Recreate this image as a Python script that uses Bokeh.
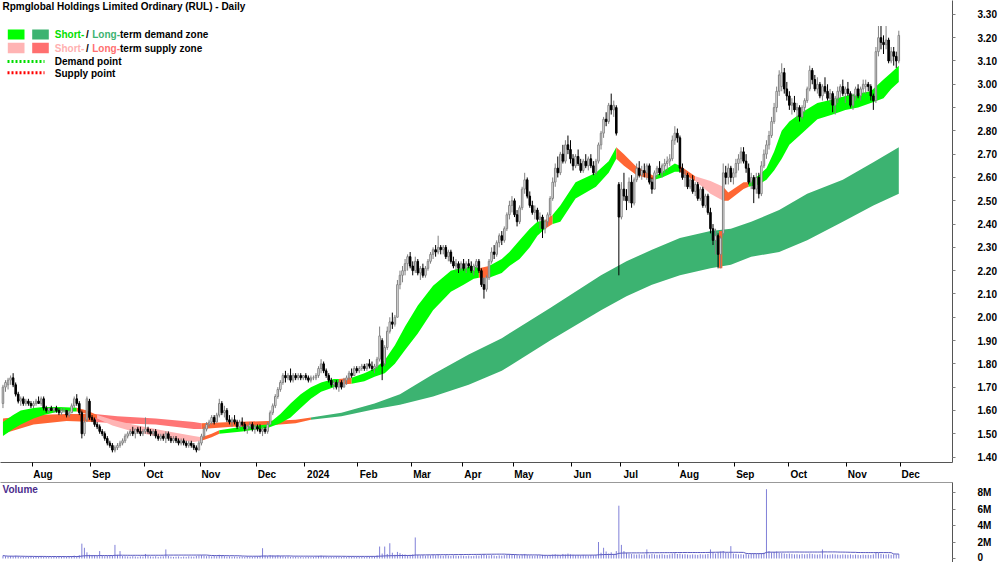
import numpy as np
import pandas as pd
from bokeh.plotting import figure
from bokeh.layouts import column
from bokeh.models import (Range1d, FixedTicker, PrintfTickFormatter, CustomJSTickFormatter,
                          Label, LinearAxis, ColumnDataSource)
from bokeh.embed import file_html
from bokeh.resources import INLINE

# ---------------------------------------------------------------- data
first_day = "2023-07-14"
last_day = "2024-11-29"
asx_holidays = ["2023-12-25", "2023-12-26", "2024-01-01", "2024-01-26",
                "2024-03-29", "2024-04-01", "2024-04-25", "2024-06-10"]

open_ = [
    1.63, 1.70, 1.71, 1.73, 1.74, 1.71, 1.67, 1.64, 1.65, 1.63, 1.64, 1.63,
    1.62, 1.63, 1.64, 1.63, 1.65, 1.61, 1.60, 1.61, 1.60, 1.61, 1.60, 1.59, 1.60, 1.60, 1.58, 1.59, 1.62, 1.65, 1.63, 1.59, 1.50, 1.56, 1.64,
    1.57, 1.56, 1.54, 1.53, 1.51, 1.50, 1.48, 1.46, 1.45, 1.43, 1.44, 1.45, 1.46, 1.47, 1.49, 1.50, 1.51, 1.50, 1.52, 1.51, 1.50,
    1.51, 1.52, 1.51, 1.50, 1.51, 1.49, 1.48, 1.49, 1.48, 1.50, 1.48, 1.47, 1.48, 1.47, 1.46, 1.47, 1.46, 1.45, 1.46, 1.45, 1.44, 1.43,
    1.46, 1.49, 1.52, 1.54, 1.55, 1.57, 1.55, 1.58, 1.63, 1.59, 1.60, 1.56, 1.55, 1.56, 1.55, 1.53, 1.55, 1.54, 1.52, 1.53, 1.54, 1.52,
    1.53, 1.52, 1.51, 1.52, 1.51, 1.54, 1.59, 1.62, 1.66, 1.69, 1.72, 1.75, 1.74, 1.75, 1.73, 1.75, 1.74, 1.75, 1.74,
    1.75, 1.74, 1.73, 1.74, 1.74, 1.75, 1.78, 1.80, 1.77, 1.75, 1.73, 1.71, 1.72, 1.70, 1.72, 1.70, 1.73, 1.74, 1.76, 1.75, 1.78,
    1.77, 1.78, 1.79, 1.78, 1.80, 1.79, 1.78, 1.79, 1.82, 1.90, 1.80, 1.87, 1.94, 1.98, 1.97, 2.00, 2.14, 2.18, 2.20, 2.23, 2.26,
    2.22, 2.20, 2.24, 2.19, 2.21, 2.18, 2.21, 2.24, 2.27, 2.29, 2.28, 2.30, 2.29, 2.30, 2.26, 2.28, 2.24, 2.22, 2.23, 2.21,
    2.23, 2.21, 2.23, 2.22, 2.20, 2.22, 2.24, 2.20, 2.14, 2.12, 2.17, 2.24, 2.28, 2.27, 2.32, 2.35, 2.33, 2.38, 2.44, 2.48,
    2.50, 2.44, 2.41, 2.47, 2.55, 2.59, 2.52, 2.48, 2.45, 2.46, 2.42, 2.43, 2.38, 2.41, 2.44, 2.51, 2.58, 2.64, 2.62, 2.70, 2.67, 2.74, 2.72,
    2.68, 2.65, 2.69, 2.66, 2.63, 2.67, 2.65, 2.68, 2.65, 2.62, 2.67, 2.74, 2.79, 2.85, 2.84, 2.91, 2.89, 2.90, 2.57,
    2.43, 2.55, 2.52, 2.50, 2.58, 2.49, 2.59, 2.64, 2.61, 2.63, 2.62, 2.65, 2.58, 2.55, 2.62, 2.64, 2.62, 2.65, 2.66, 2.67, 2.68, 2.76, 2.79,
    2.77, 2.64, 2.60, 2.61, 2.56, 2.59, 2.54, 2.57, 2.51, 2.55, 2.48, 2.52, 2.45, 2.38, 2.33, 2.35, 2.27, 2.36, 2.62, 2.60, 2.64, 2.60,
    2.62, 2.66, 2.68, 2.71, 2.67, 2.64, 2.58, 2.60, 2.55, 2.60, 2.53, 2.65, 2.70, 2.74, 2.78, 2.84, 2.90, 2.97, 2.99, 3.05, 2.98,
    2.95, 2.91, 2.92, 2.89, 2.90, 2.86, 2.90, 2.93, 2.98, 3.06, 3.02, 2.98, 3.00, 2.95, 2.99, 2.97, 2.94, 2.96, 2.91, 2.94, 2.97, 2.99, 2.96,
    2.98, 2.96, 2.91, 2.95, 2.98, 2.95, 2.98, 2.99, 3.00, 2.99, 2.95, 2.93, 3.14, 3.20, 3.18, 3.17, 3.19, 3.10, 3.14, 3.12, 3.10,
]
high = [
    1.71, 1.73, 1.74, 1.75, 1.76, 1.72, 1.68, 1.66, 1.66, 1.65, 1.65, 1.64,
    1.64, 1.65, 1.66, 1.66, 1.66, 1.62, 1.61, 1.62, 1.61, 1.62, 1.61, 1.61, 1.61, 1.60, 1.60, 1.63, 1.66, 1.67, 1.64, 1.60, 1.57, 1.66, 1.65,
    1.58, 1.57, 1.55, 1.54, 1.52, 1.51, 1.49, 1.47, 1.46, 1.45, 1.46, 1.47, 1.48, 1.50, 1.51, 1.52, 1.53, 1.52, 1.53, 1.53, 1.52,
    1.57, 1.53, 1.52, 1.52, 1.52, 1.50, 1.50, 1.50, 1.51, 1.51, 1.49, 1.49, 1.49, 1.48, 1.48, 1.48, 1.47, 1.47, 1.47, 1.46, 1.45, 1.47,
    1.50, 1.53, 1.55, 1.56, 1.58, 1.58, 1.59, 1.65, 1.64, 1.62, 1.61, 1.58, 1.57, 1.58, 1.56, 1.56, 1.57, 1.55, 1.54, 1.55, 1.55, 1.54,
    1.54, 1.54, 1.53, 1.53, 1.55, 1.60, 1.63, 1.67, 1.70, 1.73, 1.76, 1.77, 1.76, 1.78, 1.76, 1.76, 1.76, 1.76, 1.75,
    1.76, 1.75, 1.75, 1.75, 1.76, 1.79, 1.82, 1.81, 1.78, 1.76, 1.74, 1.73, 1.73, 1.73, 1.73, 1.74, 1.75, 1.77, 1.78, 1.79, 1.79,
    1.79, 1.80, 1.80, 1.80, 1.82, 1.81, 1.80, 1.83, 1.96, 1.91, 1.88, 1.96, 2.00, 2.02, 2.01, 2.16, 2.20, 2.22, 2.25, 2.27, 2.28,
    2.24, 2.26, 2.25, 2.22, 2.23, 2.22, 2.25, 2.28, 2.30, 2.31, 2.35, 2.31, 2.31, 2.31, 2.29, 2.29, 2.26, 2.25, 2.24, 2.24,
    2.25, 2.24, 2.25, 2.24, 2.23, 2.25, 2.25, 2.21, 2.17, 2.18, 2.25, 2.30, 2.31, 2.33, 2.36, 2.37, 2.39, 2.45, 2.50, 2.52,
    2.51, 2.46, 2.48, 2.56, 2.62, 2.60, 2.54, 2.50, 2.48, 2.47, 2.45, 2.44, 2.42, 2.45, 2.52, 2.60, 2.66, 2.69, 2.71, 2.74, 2.76, 2.78, 2.76,
    2.70, 2.70, 2.72, 2.68, 2.68, 2.70, 2.69, 2.70, 2.67, 2.68, 2.75, 2.80, 2.86, 2.88, 2.92, 2.96, 2.93, 2.91, 2.58,
    2.58, 2.62, 2.55, 2.60, 2.61, 2.60, 2.66, 2.67, 2.65, 2.66, 2.66, 2.66, 2.60, 2.63, 2.65, 2.67, 2.66, 2.68, 2.69, 2.70, 2.78, 2.82, 2.81,
    2.78, 2.66, 2.63, 2.62, 2.60, 2.61, 2.58, 2.58, 2.56, 2.56, 2.53, 2.53, 2.47, 2.40, 2.38, 2.36, 2.35, 2.66, 2.65, 2.66, 2.65, 2.64,
    2.68, 2.70, 2.73, 2.73, 2.70, 2.66, 2.62, 2.61, 2.62, 2.62, 2.67, 2.72, 2.76, 2.80, 2.86, 2.92, 2.99, 3.06, 3.09, 3.07, 3.01,
    2.97, 2.94, 2.95, 2.92, 2.91, 2.91, 2.94, 2.99, 3.08, 3.07, 3.04, 3.03, 3.01, 3.00, 3.03, 3.00, 2.98, 2.97, 2.95, 2.99, 3.00, 3.02, 2.99,
    3.01, 2.97, 2.96, 2.99, 3.00, 2.99, 3.02, 3.02, 3.01, 3.00, 2.96, 3.16, 3.25, 3.25, 3.21, 3.25, 3.20, 3.16, 3.16, 3.14, 3.23,
]
low = [
    1.61, 1.68, 1.69, 1.71, 1.70, 1.66, 1.63, 1.62, 1.62, 1.62, 1.62, 1.61,
    1.61, 1.62, 1.63, 1.62, 1.60, 1.59, 1.59, 1.60, 1.59, 1.59, 1.58, 1.58, 1.59, 1.57, 1.57, 1.59, 1.61, 1.62, 1.58, 1.48, 1.49, 1.55, 1.56,
    1.55, 1.53, 1.52, 1.50, 1.49, 1.47, 1.45, 1.44, 1.42, 1.42, 1.43, 1.44, 1.45, 1.46, 1.48, 1.49, 1.49, 1.48, 1.50, 1.49, 1.49,
    1.50, 1.50, 1.49, 1.49, 1.48, 1.47, 1.47, 1.47, 1.46, 1.47, 1.46, 1.46, 1.46, 1.45, 1.45, 1.45, 1.44, 1.44, 1.44, 1.43, 1.42, 1.43,
    1.45, 1.48, 1.51, 1.53, 1.54, 1.54, 1.55, 1.57, 1.58, 1.57, 1.55, 1.54, 1.53, 1.54, 1.52, 1.52, 1.53, 1.51, 1.50, 1.52, 1.51, 1.50,
    1.51, 1.50, 1.49, 1.50, 1.50, 1.54, 1.58, 1.61, 1.65, 1.68, 1.71, 1.72, 1.73, 1.72, 1.72, 1.73, 1.73, 1.73, 1.73,
    1.73, 1.72, 1.72, 1.73, 1.73, 1.74, 1.76, 1.76, 1.74, 1.72, 1.70, 1.69, 1.69, 1.68, 1.69, 1.70, 1.71, 1.73, 1.74, 1.75, 1.76,
    1.76, 1.77, 1.77, 1.77, 1.78, 1.77, 1.76, 1.78, 1.81, 1.73, 1.79, 1.86, 1.93, 1.95, 1.96, 2.00, 2.12, 2.15, 2.18, 2.20, 2.21,
    2.18, 2.19, 2.18, 2.16, 2.17, 2.17, 2.20, 2.23, 2.25, 2.26, 2.27, 2.27, 2.27, 2.25, 2.24, 2.23, 2.21, 2.20, 2.19, 2.20,
    2.20, 2.19, 2.21, 2.19, 2.18, 2.21, 2.19, 2.13, 2.08, 2.11, 2.16, 2.23, 2.25, 2.26, 2.30, 2.31, 2.32, 2.37, 2.42, 2.45,
    2.43, 2.39, 2.40, 2.46, 2.53, 2.51, 2.47, 2.44, 2.42, 2.41, 2.38, 2.34, 2.36, 2.39, 2.43, 2.50, 2.56, 2.60, 2.61, 2.66, 2.66, 2.70, 2.66,
    2.63, 2.64, 2.65, 2.62, 2.62, 2.64, 2.63, 2.64, 2.61, 2.61, 2.66, 2.72, 2.77, 2.82, 2.83, 2.87, 2.86, 2.78, 2.18,
    2.42, 2.50, 2.46, 2.49, 2.47, 2.48, 2.58, 2.60, 2.59, 2.60, 2.59, 2.57, 2.53, 2.55, 2.60, 2.61, 2.60, 2.62, 2.63, 2.65, 2.67, 2.74, 2.75,
    2.62, 2.59, 2.56, 2.55, 2.55, 2.53, 2.52, 2.50, 2.50, 2.47, 2.47, 2.44, 2.36, 2.31, 2.27, 2.21, 2.21, 2.35, 2.57, 2.57, 2.58, 2.57,
    2.60, 2.63, 2.66, 2.66, 2.62, 2.57, 2.55, 2.49, 2.53, 2.51, 2.52, 2.64, 2.68, 2.72, 2.77, 2.83, 2.88, 2.95, 2.97, 2.96, 2.93,
    2.89, 2.87, 2.88, 2.85, 2.84, 2.85, 2.88, 2.92, 2.97, 3.00, 2.97, 2.96, 2.94, 2.93, 2.96, 2.93, 2.92, 2.88, 2.87, 2.92, 2.94, 2.95, 2.92,
    2.95, 2.90, 2.89, 2.93, 2.94, 2.93, 2.96, 2.96, 2.97, 2.93, 2.89, 2.92, 3.12, 3.15, 3.13, 3.15, 3.09, 3.09, 3.08, 3.07, 3.09,
]
close = [
    1.70, 1.72, 1.73, 1.74, 1.71, 1.67, 1.64, 1.65, 1.63, 1.64, 1.63, 1.62,
    1.63, 1.64, 1.63, 1.65, 1.61, 1.60, 1.61, 1.60, 1.61, 1.60, 1.59, 1.60, 1.60, 1.58, 1.59, 1.62, 1.65, 1.63, 1.59, 1.50, 1.55, 1.65, 1.57,
    1.56, 1.54, 1.53, 1.51, 1.50, 1.48, 1.46, 1.45, 1.43, 1.44, 1.45, 1.46, 1.47, 1.49, 1.50, 1.51, 1.50, 1.52, 1.51, 1.50, 1.51,
    1.52, 1.51, 1.50, 1.51, 1.49, 1.48, 1.49, 1.48, 1.50, 1.48, 1.47, 1.48, 1.47, 1.46, 1.47, 1.46, 1.45, 1.46, 1.45, 1.44, 1.43, 1.46,
    1.49, 1.52, 1.54, 1.55, 1.57, 1.55, 1.58, 1.63, 1.59, 1.60, 1.56, 1.55, 1.56, 1.55, 1.53, 1.55, 1.54, 1.52, 1.53, 1.54, 1.52, 1.53,
    1.52, 1.51, 1.52, 1.51, 1.54, 1.59, 1.62, 1.66, 1.69, 1.72, 1.75, 1.74, 1.75, 1.73, 1.75, 1.74, 1.75, 1.74, 1.75,
    1.74, 1.73, 1.74, 1.74, 1.75, 1.78, 1.80, 1.77, 1.75, 1.73, 1.71, 1.72, 1.70, 1.72, 1.70, 1.73, 1.74, 1.76, 1.75, 1.78, 1.77,
    1.78, 1.79, 1.78, 1.80, 1.79, 1.78, 1.79, 1.82, 1.92, 1.79, 1.87, 1.94, 1.98, 1.97, 2.00, 2.14, 2.18, 2.20, 2.23, 2.26, 2.22,
    2.20, 2.24, 2.19, 2.21, 2.18, 2.21, 2.24, 2.27, 2.29, 2.28, 2.30, 2.29, 2.30, 2.26, 2.28, 2.24, 2.22, 2.23, 2.21, 2.23,
    2.21, 2.23, 2.22, 2.20, 2.22, 2.24, 2.20, 2.14, 2.12, 2.17, 2.24, 2.28, 2.27, 2.32, 2.35, 2.33, 2.38, 2.44, 2.48, 2.50,
    2.44, 2.41, 2.47, 2.55, 2.59, 2.52, 2.48, 2.45, 2.46, 2.42, 2.43, 2.38, 2.41, 2.44, 2.51, 2.58, 2.64, 2.62, 2.70, 2.67, 2.74, 2.72, 2.68,
    2.65, 2.69, 2.66, 2.63, 2.67, 2.65, 2.68, 2.65, 2.62, 2.67, 2.74, 2.79, 2.85, 2.84, 2.91, 2.89, 2.91, 2.79, 2.43,
    2.55, 2.52, 2.50, 2.58, 2.49, 2.59, 2.64, 2.61, 2.63, 2.62, 2.65, 2.58, 2.55, 2.62, 2.64, 2.62, 2.65, 2.66, 2.67, 2.68, 2.76, 2.79, 2.77,
    2.64, 2.60, 2.61, 2.56, 2.59, 2.54, 2.57, 2.51, 2.55, 2.48, 2.52, 2.45, 2.38, 2.33, 2.35, 2.27, 2.34, 2.62, 2.60, 2.64, 2.60, 2.62,
    2.66, 2.68, 2.71, 2.67, 2.64, 2.58, 2.60, 2.55, 2.60, 2.53, 2.65, 2.70, 2.74, 2.78, 2.84, 2.90, 2.97, 3.04, 3.05, 2.98, 2.95,
    2.91, 2.92, 2.89, 2.90, 2.86, 2.90, 2.93, 2.98, 3.06, 3.02, 2.98, 3.00, 2.95, 2.99, 2.97, 2.94, 2.96, 2.91, 2.94, 2.97, 2.99, 2.96, 2.98,
    2.96, 2.91, 2.95, 2.98, 2.95, 2.98, 3.00, 3.00, 2.99, 2.95, 2.93, 3.14, 3.20, 3.18, 3.17, 3.19, 3.10, 3.14, 3.12, 3.10, 3.21,
]
volume_m = [
    0.35, 0.28, 0.22, 0.30, 0.25, 0.33, 0.27, 0.20, 0.24, 0.18, 0.22, 0.26,
    0.21, 0.19, 0.25, 0.30, 0.22, 0.18, 0.20, 0.17, 0.23, 0.19, 0.21, 0.24, 0.18, 0.22, 0.26, 0.30, 0.35, 0.28, 0.40, 1.80, 1.30, 0.75, 0.45,
    0.38, 0.42, 0.30, 0.90, 0.35, 0.28, 0.33, 0.41, 0.36, 1.65, 0.45, 0.90, 0.30, 0.27, 0.25, 0.22, 0.28, 0.24, 0.20, 0.26, 0.23,
    0.55, 0.30, 0.25, 0.22, 0.28, 0.20, 0.24, 0.26, 1.10, 0.30, 0.22, 0.19, 0.21, 0.25, 0.18, 0.23, 0.20, 0.27, 0.24, 0.22, 0.30, 0.35,
    0.40, 0.33, 0.28, 0.30, 0.25, 0.31, 0.27, 0.45, 0.38, 0.29, 0.22, 0.26, 0.20, 0.24, 0.19, 0.23, 0.21, 0.18, 0.25, 0.22, 0.20, 0.24,
    0.26, 0.30, 1.25, 0.35, 0.28, 0.40, 0.36, 0.32, 0.38, 0.30, 0.27, 0.22, 0.25, 0.20, 0.18, 0.22, 0.16, 0.19, 0.15,
    0.18, 0.21, 0.17, 0.20, 0.23, 0.30, 0.35, 0.28, 0.24, 0.20, 0.22, 0.19, 0.25, 0.21, 0.18, 0.20, 0.17, 0.22, 0.24, 0.19, 0.21,
    0.20, 0.23, 0.18, 0.22, 0.25, 0.21, 0.27, 0.38, 1.45, 0.60, 1.45, 0.55, 1.85, 0.70, 0.45, 0.80, 0.65, 0.50, 0.48, 0.40, 0.44,
    0.50, 2.55, 0.45, 0.38, 0.42, 0.35, 0.40, 0.37, 0.45, 0.39, 0.48, 0.36, 0.33, 0.41, 0.35, 0.30, 0.38, 0.34, 0.31, 0.36,
    0.33, 0.30, 0.35, 0.29, 0.32, 0.38, 0.34, 0.45, 0.52, 0.40, 0.36, 0.42, 0.35, 0.31, 0.38, 0.34, 0.40, 0.45, 0.50, 0.42,
    0.48, 0.40, 0.36, 0.45, 0.55, 0.42, 0.38, 0.35, 0.33, 0.40, 0.37, 0.45, 0.39, 0.35, 0.42, 0.48, 0.52, 0.45, 0.40, 0.55, 0.48, 0.60, 0.50,
    0.45, 0.40, 0.42, 0.38, 0.44, 0.40, 0.36, 0.41, 0.39, 0.43, 2.00, 0.70, 1.30, 0.85, 0.60, 0.75, 0.55, 0.90, 6.40,
    1.65, 0.90, 0.70, 0.60, 0.55, 0.50, 0.48, 0.52, 0.45, 0.50, 1.10, 0.47, 0.55, 0.50, 0.45, 0.48, 0.52, 0.46, 0.44, 0.50, 0.60, 0.65, 0.55,
    0.58, 0.50, 0.52, 0.48, 0.45, 0.50, 0.47, 0.44, 0.52, 0.48, 0.50, 0.55, 1.10, 0.70, 0.60, 0.75, 0.85, 0.90, 0.70, 0.65, 1.50, 0.60,
    0.55, 0.50, 0.52, 0.48, 0.55, 0.50, 0.58, 0.62, 0.55, 0.60, 0.65, 0.70, 8.40, 0.90, 0.75, 0.80, 0.85, 0.70, 0.65, 0.60, 0.55,
    0.60, 0.55, 0.50, 0.52, 0.48, 0.55, 0.50, 0.53, 0.60, 0.55, 0.50, 0.48, 0.52, 1.10, 0.50, 0.45, 0.48, 0.52, 0.50, 0.47, 0.45, 0.50, 0.48,
    0.46, 0.50, 0.44, 0.48, 0.45, 0.42, 0.47, 0.44, 0.46, 0.43, 0.50, 0.70, 0.65, 0.55, 0.50, 0.48, 0.52, 0.45, 0.50, 0.47, 0.55,
]

# short-term zone (fast group) edges at sampled trading days; state G=demand, P=supply, O=transition
st_day = [0, 4, 7, 12, 16, 22, 29, 33, 37, 43, 51, 65, 75, 78, 82, 85, 94, 104, 109, 113,
          117, 121, 125, 130, 132, 137, 142, 146, 150, 154, 158, 163, 169, 176, 181, 185, 187, 191, 196, 199,
          203, 207, 210, 213, 216, 219, 225, 233, 238, 241, 244, 249, 256, 259, 264, 266, 272, 278, 283, 285,
          291, 293, 297, 300, 303, 306, 309, 314, 320, 326, 331, 336, 341, 346, 349, 352]
st_top = [1.55, 1.58, 1.60, 1.61, 1.615, 1.615, 1.612, 1.60, 1.58, 1.56, 1.54, 1.51, 1.49, 1.485, 1.50, 1.515, 1.53, 1.54, 1.585, 1.63,
          1.67, 1.70, 1.72, 1.735, 1.735, 1.74, 1.76, 1.78, 1.815, 1.88, 1.96, 2.05, 2.135, 2.20, 2.215, 2.22, 2.21, 2.22, 2.25, 2.28,
          2.33, 2.38, 2.41, 2.415, 2.44, 2.48, 2.58, 2.62, 2.67, 2.73, 2.70, 2.645, 2.605, 2.625, 2.66, 2.65, 2.605, 2.585, 2.56, 2.535,
          2.58, 2.58, 2.61, 2.64, 2.71, 2.80, 2.84, 2.88, 2.92, 2.935, 2.95, 2.96, 2.97, 3.02, 3.05, 3.08]
st_bot = [1.49, 1.52, 1.54, 1.565, 1.58, 1.595, 1.595, 1.585, 1.565, 1.535, 1.51, 1.48, 1.465, 1.47, 1.485, 1.50, 1.51, 1.525, 1.545, 1.57,
          1.61, 1.65, 1.68, 1.70, 1.71, 1.715, 1.725, 1.745, 1.76, 1.80, 1.86, 1.93, 2.03, 2.11, 2.14, 2.165, 2.17, 2.17, 2.19, 2.22,
          2.25, 2.30, 2.35, 2.38, 2.40, 2.41, 2.51, 2.56, 2.62, 2.68, 2.65, 2.61, 2.59, 2.60, 2.625, 2.625, 2.585, 2.53, 2.50, 2.50,
          2.55, 2.56, 2.57, 2.59, 2.63, 2.68, 2.74, 2.79, 2.85, 2.87, 2.89, 2.90, 2.92, 2.94, 2.98, 3.01]
st_state = ["G", "G", "G", "G", "G", "G", "O", "O", "P", "P", "P", "P", "P", "O", "O", "G", "G", "G", "G", "G",
            "G", "G", "G", "G", "O", "G", "G", "G", "G", "G", "G", "G", "G", "G", "G", "G", "O", "G", "G", "G",
            "G", "G", "G", "O", "G", "G", "G", "G", "G", "O", "O", "O", "G", "G", "G", "O", "P", "P", "O", "O",
            "O", "G", "G", "G", "G", "G", "G", "G", "G", "G", "G", "G", "G", "G", "G", "G"]

# long-term zone (slow group) edges; state G=demand, R=supply, O=transition
lt_day = [0, 12, 25, 36, 45, 60, 75, 78, 90, 104, 115, 121, 133, 146, 156, 169, 183, 196, 215, 235,
          245, 255, 266, 278, 286, 294, 305, 316, 330, 342, 352]
lt_top = [1.565, 1.58, 1.585, 1.585, 1.575, 1.565, 1.55, 1.545, 1.55, 1.555, 1.56, 1.57, 1.59, 1.63, 1.67, 1.755, 1.84, 1.91, 2.04, 2.18,
          2.24, 2.29, 2.34, 2.37, 2.38, 2.41, 2.46, 2.53, 2.59, 2.665, 2.73]
lt_bot = [1.50, 1.54, 1.555, 1.55, 1.545, 1.54, 1.52, 1.52, 1.53, 1.535, 1.545, 1.56, 1.575, 1.605, 1.625, 1.66, 1.71, 1.77, 1.90, 2.03,
          2.09, 2.14, 2.18, 2.21, 2.225, 2.26, 2.28, 2.33, 2.41, 2.48, 2.53]
lt_state = ["O", "O", "O", "R", "R", "R", "R", "O", "O", "O", "O"] + ["G"] * 20

flag_day = [282]
flag_low = [2.21]
flag_high = [2.37]

price_ticks = [1.40, 1.50, 1.60, 1.70, 1.80, 1.90, 2.00, 2.10, 2.20, 2.30,
               2.40, 2.50, 2.60, 2.70, 2.80, 2.90, 3.00, 3.10, 3.20, 3.30]
volume_ticks = [0, 2, 4, 6, 8]
volume_tick_labels = ["0", "2M", "4M", "6M", "8M"]

title_text = "Rpmglobal Holdings Limited Ordinary (RUL) - Daily"

# ---------------------------------------------------------------- geometry / style
FONT = "Liberation Sans"
GREEN, DKGREEN, PINK, SALMON, ORANGE = "#00ff00", "#3cb371", "#ffb4b4", "#ff7575", "#ff6633"
FRAME_W = 952
MAIN_H, MAIN_FRAME_H = 482, 466
VOL_H = 80
DAY0_PX, DAY_PX = 2.46, 2.545
TICK_PX, TICK_PRICE, PX_PER_UNIT = 14.0, 3.30, 235.0
VZERO_PX, PX_PER_M = 76.0, 8.25
AXIS_STANDOFF = 22


def xdata(px):
    return (px - DAY0_PX) / DAY_PX


def ydata(py):
    return TICK_PRICE - (py - TICK_PX) / PX_PER_UNIT


def vdata(py):
    return (VZERO_PX - py) / PX_PER_M


n = len(close)
idx = np.arange(n)
dates = pd.bdate_range(first_day, last_day)
dates = dates[~dates.isin(pd.to_datetime(asx_holidays))][:n]

xr = Range1d(xdata(0), xdata(FRAME_W))

p = figure(width=1000, height=MAIN_H, x_range=xr, y_range=Range1d(ydata(MAIN_FRAME_H), ydata(0)),
           output_backend="svg", toolbar_location=None, y_axis_location="right",
           min_border_left=0, min_border_right=1000 - FRAME_W, min_border_top=0,
           min_border_bottom=MAIN_H - MAIN_FRAME_H)
p.outline_line_color = None
p.xgrid.visible = False
p.ygrid.visible = False
p.background_fill_color = "white"
p.border_fill_color = "white"

colors = {"G": GREEN, "P": PINK, "O": ORANGE}
lt_colors = {"G": DKGREEN, "R": SALMON, "O": ORANGE}


def draw_band(days, top, bot, states, cmap):
    start = 0
    m = len(days)
    for k in range(1, m + 1):
        if k == m or states[k] != states[start]:
            end = min(k, m - 1)
            p.varea(x=days[start:end + 1], y1=bot[start:end + 1], y2=top[start:end + 1],
                    fill_color=cmap[states[start]], fill_alpha=1.0)
            start = k


draw_band(lt_day, lt_top, lt_bot, lt_state, lt_colors)
draw_band(st_day, st_top, st_bot, st_state, colors)
p.vbar(x=flag_day, width=1.3, top=flag_high, bottom=flag_low, fill_color=ORANGE, line_color=None)

o = np.array(open_)
c = np.array(close)
h = np.array(high)
l = np.array(low)
up = c >= o
src_up = ColumnDataSource(dict(x=idx[up], top=c[up], bottom=o[up], hi=h[up], lo=l[up]))
src_dn = ColumnDataSource(dict(x=idx[~up], top=o[~up], bottom=c[~up], hi=h[~up], lo=l[~up]))
p.segment(x0="x", y0="hi", x1="x", y1="lo", source=src_up, line_color="#808080", line_width=1)
p.segment(x0="x", y0="hi", x1="x", y1="lo", source=src_dn, line_color="#000000", line_width=1)
p.vbar(x="x", width=0.6, top="top", bottom="bottom", source=src_up,
       fill_color="#ffffff", line_color="#808080", line_width=1)
p.vbar(x="x", width=0.6, top="top", bottom="bottom", source=src_dn,
       fill_color="#000000", line_color="#000000", line_width=1)

# month axis
tick_pos, tick_lab = [], []
for i in range(1, n):
    if dates[i].month != dates[i - 1].month:
        tick_pos.append(i - 0.5)
        tick_lab.append(str(dates[i].year) if dates[i].month == 1 else dates[i].strftime("%b"))
nxt = dates[-1] + pd.offsets.MonthBegin(1)
tick_pos.append(n - 0.5)
tick_lab.append(str(nxt.year) if nxt.month == 1 else nxt.strftime("%b"))
centers = [round(tp + (1.5 + 3.05 * len(t)) / DAY_PX, 3) for tp, t in zip(tick_pos, tick_lab)]

xa = p.xaxis[0]
xa.ticker = FixedTicker(ticks=centers, minor_ticks=tick_pos)
xa.formatter = CustomJSTickFormatter(args=dict(pos=centers, labs=tick_lab), code="""
    let best = ''; let d = 1e9;
    for (let i = 0; i < pos.length; i++) { const dd = Math.abs(pos[i] - tick); if (dd < d) { d = dd; best = labs[i]; } }
    return best;
""")
xa.major_tick_line_color = None
xa.major_tick_out = 0
xa.minor_tick_in = 0
xa.minor_tick_out = 4
xa.minor_tick_line_color = "#000000"
xa.axis_line_color = "#555555"
xa.major_label_standoff = 2
xa.major_label_text_font = FONT
xa.major_label_text_font_style = "bold"
xa.major_label_text_font_size = "10px"
xa.major_label_text_color = "#000000"

ya = p.yaxis[0]
ya.ticker = FixedTicker(ticks=price_ticks)
ya.formatter = PrintfTickFormatter(format="%.2f")
ya.major_tick_in = 0
ya.major_tick_out = 3
ya.minor_tick_line_color = None
ya.axis_line_color = "#555555"
ya.major_tick_line_color = "#808080"
ya.major_label_standoff = AXIS_STANDOFF
ya.major_label_text_font = FONT
ya.major_label_text_font_style = "bold"
ya.major_label_text_font_size = "10px"
ya.major_label_text_color = "#000000"


def label(fig, px, y, text, color="#000000", size="10px"):
    fig.add_layout(Label(x=xdata(px), y=y, text=text, text_font=FONT, text_font_style="bold",
                         text_font_size=size, text_color=color, text_baseline="middle", text_align="left"))


label(p, 2, ydata(6.5), title_text)

# legend
for (l0, r0), col in [((7.3, 24), GREEN), ((31.7, 48.3), DKGREEN)]:
    p.quad(left=xdata(l0), right=xdata(r0), top=ydata(29.3), bottom=ydata(39.3), fill_color=col, line_color=None)
for (l0, r0), col in [((7.3, 24), PINK), ((31.7, 48.3), "#ff6f6f")]:
    p.quad(left=xdata(l0), right=xdata(r0), top=ydata(42.7), bottom=ydata(53.3), fill_color=col, line_color=None)
p.line(x=[xdata(7), xdata(44)], y=[ydata(61.5)] * 2, line_color="#00dd00", line_width=3, line_dash="2 2")
p.line(x=[xdata(7), xdata(44)], y=[ydata(73)] * 2, line_color="#ff0000", line_width=3, line_dash="2 2")

for row_y, c1, c2, tail in [(34.5, "#00e000", DKGREEN, "term demand zone"),
                             (48.3, "#ffb0b0", "#ff6f6f", "term supply zone")]:
    label(p, 54.3, ydata(row_y), "Short-", c1)
    label(p, 85.5, ydata(row_y), "/")
    label(p, 91.7, ydata(row_y), "Long-", c2)
    label(p, 119.5, ydata(row_y), tail)
label(p, 54.3, ydata(61.8), "Demand point")
label(p, 54.3, ydata(73.3), "Supply point")

# ---------------------------------------------------------------- volume pane
v = figure(width=1000, height=VOL_H, x_range=xr, y_range=Range1d(vdata(VOL_H), vdata(0)),
           output_backend="svg", toolbar_location=None, y_axis_location="right", x_axis_location=None,
           min_border_left=0, min_border_right=1000 - FRAME_W, min_border_top=0, min_border_bottom=0)
v.outline_line_color = None
v.xgrid.visible = False
v.ygrid.visible = False
top_axis = LinearAxis(ticker=FixedTicker(ticks=[]), major_tick_out=0, major_tick_in=0,
                      major_label_standoff=0, axis_line_color="#999999", minor_tick_line_color=None)
v.add_layout(top_axis, "above")

vol = np.array(volume_m)
v.segment(x0=idx, y0=np.zeros(n), x1=idx, y1=vol, line_color="#8080d8", line_width=1)
vol_avg = pd.Series(vol).rolling(50, min_periods=1).mean().values
v.line(x=idx, y=vol_avg, line_color="#5a5ac0", line_width=1)

vy = v.yaxis[0]
vy.ticker = FixedTicker(ticks=volume_ticks)
vy.major_label_overrides = {t: s for t, s in zip(volume_ticks, volume_tick_labels)}
vy.major_tick_in = 0
vy.major_tick_out = 3
vy.minor_tick_line_color = None
vy.axis_line_color = "#555555"
vy.major_tick_line_color = "#808080"
vy.major_label_standoff = AXIS_STANDOFF
vy.major_label_text_font = FONT
vy.major_label_text_font_style = "bold"
vy.major_label_text_font_size = "10px"
vy.major_label_text_color = "#000000"

label(v, 2, vdata(7), "Volume", "#4b2c8c")

layout = column(p, v, spacing=0)
open("out.html", "w").write(file_html(layout, INLINE))
